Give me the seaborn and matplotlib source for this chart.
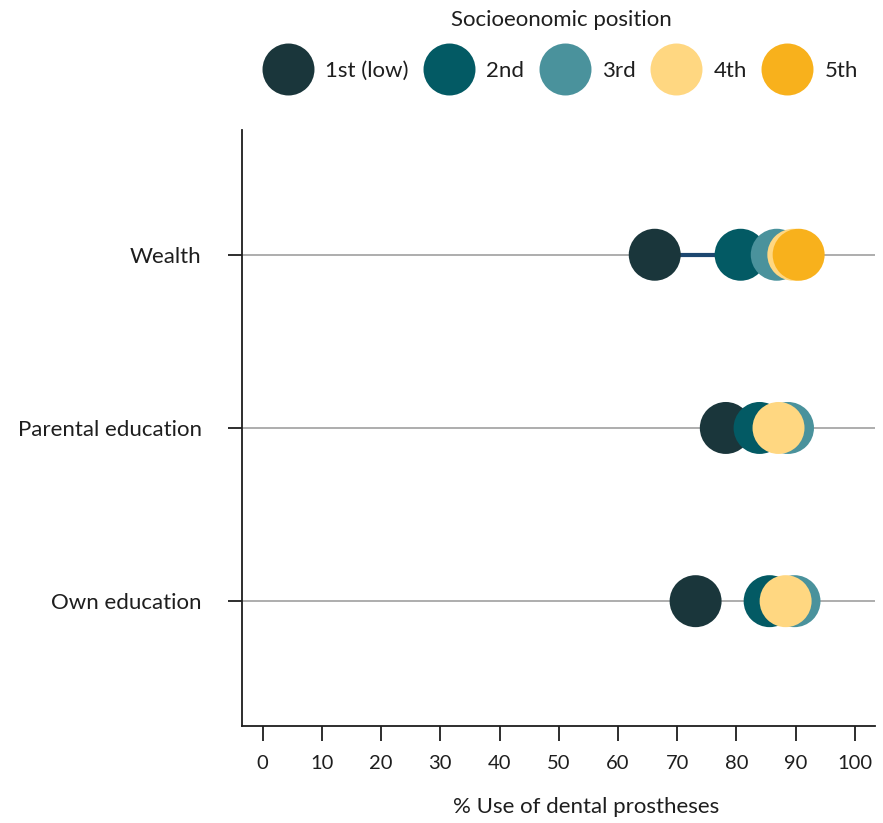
import matplotlib
matplotlib.use("Agg")
import matplotlib.pyplot as plt
import seaborn as sns
import pandas as pd
import numpy as np

categories = ["Wealth", "Parental education", "Own education"]
groups = ["1st (low)", "2nd", "3rd", "4th", "5th"]
wealth = [66.2, 80.7, 86.8, 89.6, 90.5]
parental = [78.2, 83.9, 88.7, 87.1, np.nan]
own = [73.1, 85.6, 89.8, 88.3, np.nan]
colors = ["#1a363b", "#035a64", "#4a929c", "#ffd781", "#f8b11c"]
xticks = [0, 10, 20, 30, 40, 50, 60, 70, 80, 90, 100]

rows = []
for cat, vals in zip(categories, [wealth, parental, own]):
    for g, v in zip(groups, vals):
        if not np.isnan(v):
            rows.append({"cat": cat, "group": g, "value": v})
df = pd.DataFrame(rows)

sns.set_theme(style="white")
plt.rcParams["font.family"] = ["Lato", "DejaVu Sans"]

fig = plt.figure(figsize=(8.83, 8.23), dpi=100)
ax = fig.add_axes([0.274, 0.118, 0.717, 0.724])

ax.grid(axis="y", color="#a0a0a0", linewidth=1.2)
ax.set_axisbelow(True)

# line for wealth from 1st to 5th
wdf = df[df["cat"] == "Wealth"]
ax.plot([wdf["value"].min(), wdf["value"].max()], ["Wealth", "Wealth"],
        color="#1d4770", linewidth=3, zorder=2)

sns.scatterplot(data=df, x="value", y="cat", hue="group", hue_order=groups,
                palette=colors, s=1400, linewidth=0, alpha=1, ax=ax, zorder=3,
                legend=True)

ax.set_xlim(-3.5, 103.4)
ax.set_ylim(2.72, -0.72)
ax.set_xticks(xticks)
ax.set_xticklabels([str(t) for t in xticks])
ax.set_xlabel("% Use of dental prostheses", fontsize=16, color="#1e1e1e")
ax.xaxis.set_label_coords(0.543, -0.119)
ax.set_ylabel("")

for s in ["top", "right"]:
    ax.spines[s].set_visible(False)
for s in ["left", "bottom"]:
    ax.spines[s].set_color("#1e1e1e")
    ax.spines[s].set_linewidth(1.3)

ax.tick_params(axis="x", direction="out", length=11, width=1.3, color="#1e1e1e",
               labelsize=14.5, pad=10, labelcolor="#1e1e1e", bottom=True)
ax.tick_params(axis="y", direction="out", length=10, width=1.3, color="#1e1e1e",
               labelsize=16, pad=19, labelcolor="#1e1e1e", left=True)

handles, labels = ax.get_legend_handles_labels()
ax.legend_.remove()
leg = fig.legend(handles, labels, title="Socioeonomic position", ncol=5,
                 loc="upper center", bbox_to_anchor=(0.636, 0.995), frameon=False,
                 fontsize=16, title_fontsize=16, markerscale=1.0,
                 handlelength=2.0, handletextpad=0.67, columnspacing=0.83,
                 labelspacing=1.41, borderaxespad=0.0, borderpad=0.25)
for t in leg.get_texts():
    t.set_color("#1e1e1e")
leg.get_title().set_color("#1e1e1e")

fig.savefig("out.png", dpi=100)
